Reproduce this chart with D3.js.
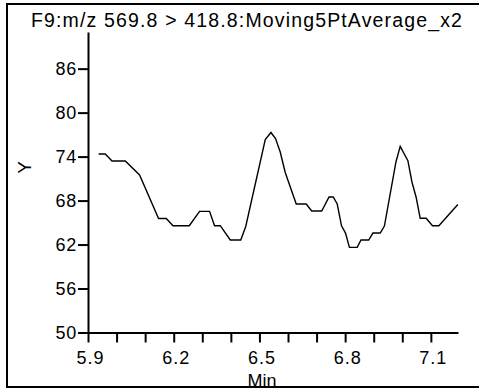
<!DOCTYPE html>
<html>
<head>
<meta charset="utf-8">
<script src="https://cdn.jsdelivr.net/npm/d3@7"></script>
<style>
  html, body { margin: 0; padding: 0; background: #fff; }
  svg { display: block; }
  text { font-family: "Liberation Sans", Arial, sans-serif; fill: #000; }
</style>
</head>
<body>
<svg id="chart" width="479" height="390"></svg>
<script>
// ---- data ----
const title = "F9:m/z 569.8 > 418.8:Moving5PtAverage_x2";
const xLabel = "Min";
const yLabel = "Y";
const times = [5.937, 5.9605, 5.984, 6.0305, 6.0805, 6.147, 6.174, 6.1974, 6.2544, 6.2905,
  6.3255, 6.343, 6.3629, 6.398, 6.4346, 6.4521, 6.5204, 6.5403, 6.5564, 6.5728,
  6.5903, 6.6288, 6.6638, 6.683, 6.718, 6.7436, 6.7583, 6.7723, 6.7873, 6.8013,
  6.8149, 6.8422, 6.8555, 6.8825, 6.8972, 6.9227, 6.9374, 6.978, 6.9927, 7.0196,
  7.0336, 7.0487, 7.0627, 7.0836, 7.1057, 7.1281, 7.1945];
const values = [74.35, 74.35, 73.4, 73.4, 71.49, 65.55, 65.55, 64.57, 64.57, 66.53,
  66.53, 64.57, 64.57, 62.62, 62.62, 64.46, 76.33, 77.29, 76.47, 74.63,
  71.83, 67.53, 67.53, 66.58, 66.58, 68.49, 68.49, 67.53, 64.56, 63.57,
  61.62, 61.62, 62.62, 62.62, 63.57, 63.57, 64.53, 73.3, 75.4, 73.44,
  70.57, 68.42, 65.58, 65.58, 64.56, 64.56, 67.46];
const yTicks = [50, 56, 62, 68, 74, 80, 86];
const xTicks = [5.9, 6.0, 6.1, 6.2, 6.3, 6.4, 6.5, 6.6, 6.7, 6.8, 6.9, 7.0, 7.1];
const xTickLabels = ["5.9", "6.2", "6.5", "6.8", "7.1"];
const xDomain = [5.9, 7.195];
const yDomain = [50, 91];

// ---- drawing ----
const svg = d3.select("#chart");
const x = d3.scaleLinear().domain(xDomain).range([88, 458]);
const y = d3.scaleLinear().domain(yDomain).range([332.5, 32]);

// frame (right edge falls outside the window)
svg.append("rect")
  .attr("x", 7).attr("y", 4).attr("width", 490).attr("height", 383)
  .attr("fill", "none").attr("stroke", "#000").attr("stroke-width", 2);

// title
svg.append("text")
  .attr("x", 31).attr("y", 27)
  .style("font-size", "19.5px").style("letter-spacing", "1.15px")
  .text(title);

// y axis
const yAxis = d3.axisLeft(y).tickValues(yTicks).tickSize(10).tickSizeOuter(0)
  .tickPadding(1).tickFormat(d3.format("d"));
const gy = svg.append("g").attr("transform", "translate(88,0)").call(yAxis);
gy.select(".domain").attr("stroke-width", 2);
gy.selectAll(".tick line").attr("stroke-width", 2);
gy.selectAll(".tick text").style("font-size", "18px").style("letter-spacing", "0.8px")
  .attr("font-family", null);

// x axis
const xAxis = d3.axisBottom(x).tickValues(xTicks).tickSize(10).tickSizeOuter(0)
  .tickPadding(9)
  .tickFormat(d => { const s = d.toFixed(1); return xTickLabels.includes(s) ? s : ""; });
const gx = svg.append("g").attr("transform", "translate(0,332.5)").call(xAxis);
gx.select(".domain").attr("stroke-width", 2);
gx.selectAll(".tick line").attr("stroke-width", 2);
gx.selectAll(".tick text").style("font-size", "18px").style("letter-spacing", "1px")
  .attr("dx", "2px").attr("font-family", null);

// axis titles
svg.append("text")
  .attr("x", 262).attr("y", 387).attr("text-anchor", "middle")
  .style("font-size", "18px").text(xLabel);
svg.append("text")
  .attr("transform", "translate(31,167.5) rotate(-90)").attr("text-anchor", "middle")
  .style("font-size", "19px").text(yLabel);

// redraw frame bottom over axis title, as in reference
svg.append("line").attr("x1", 6).attr("x2", 479).attr("y1", 387).attr("y2", 387)
  .attr("stroke", "#000").attr("stroke-width", 2);

// data line
const pts = times.map((t, i) => [t, values[i]]);
svg.append("path")
  .datum(pts)
  .attr("fill", "none").attr("stroke", "#000").attr("stroke-width", 1.4)
  .attr("d", d3.line().x(d => x(d[0])).y(d => y(d[1])));
</script>
</body>
</html>
